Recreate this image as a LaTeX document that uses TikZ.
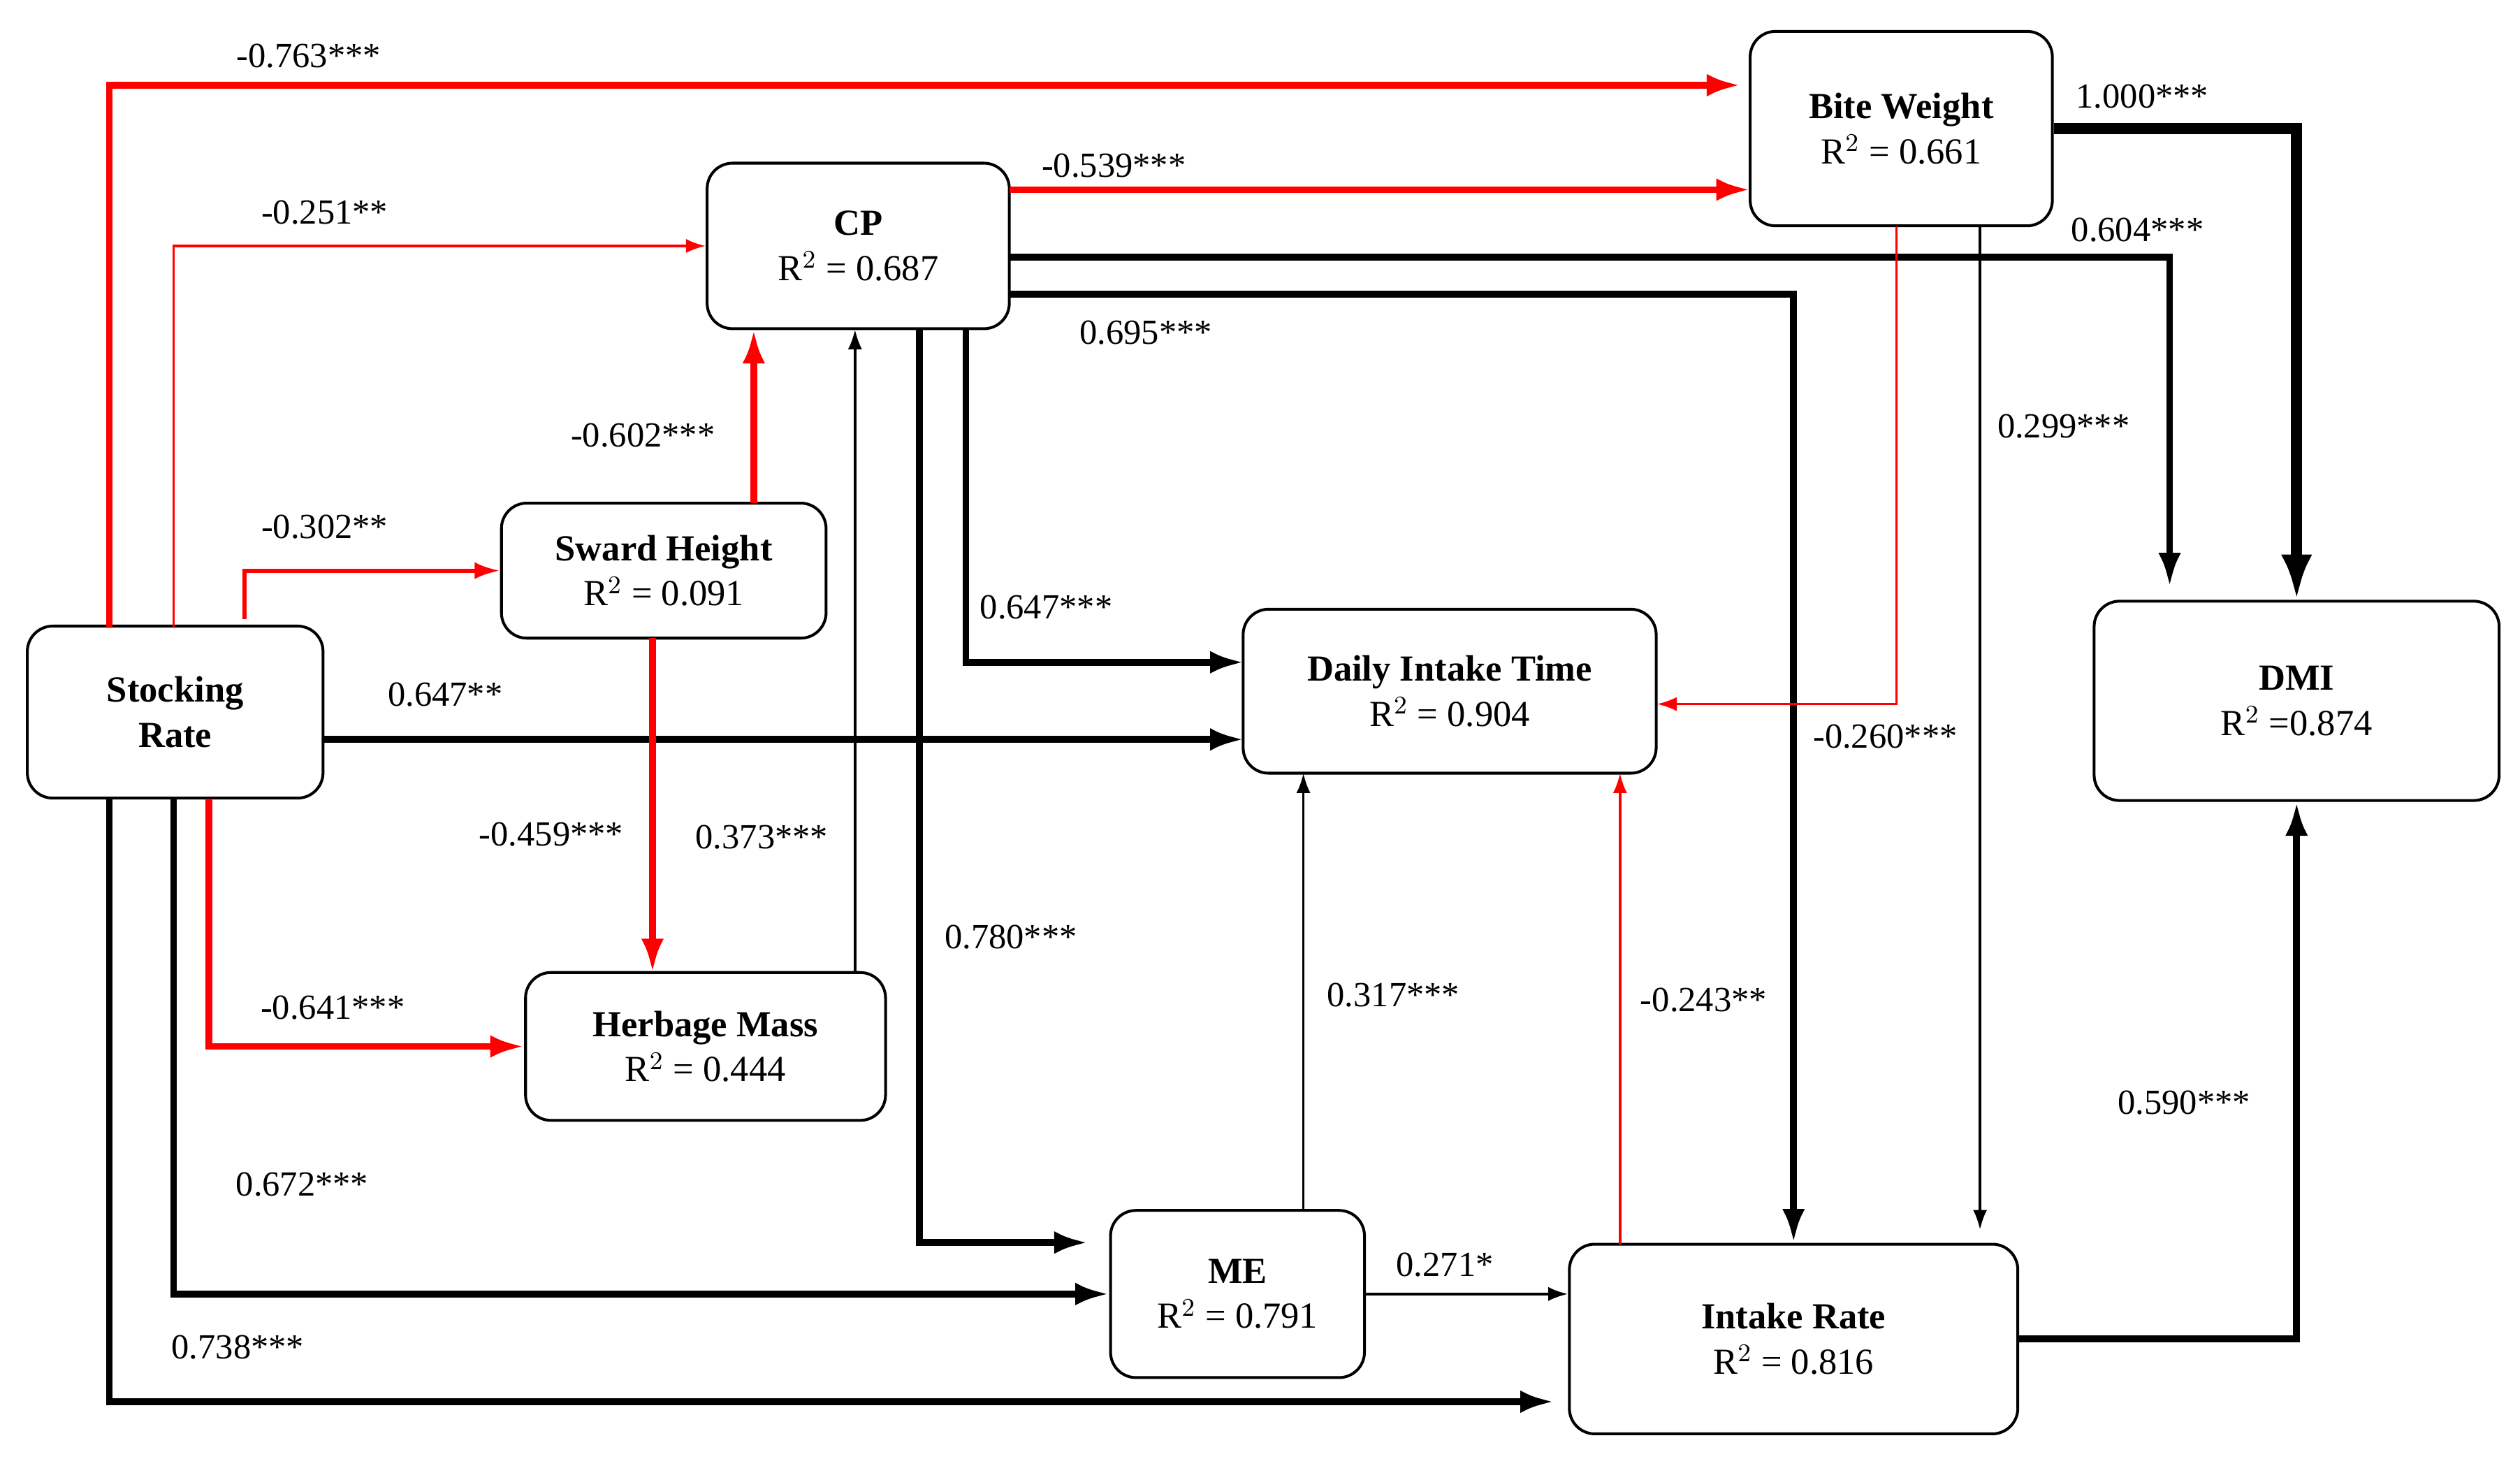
\documentclass[tikz,border=0pt]{standalone}
\usepackage{fontspec}
\setmainfont{Liberation Serif}
\usetikzlibrary{arrows.meta}
\begin{document}
\begin{tikzpicture}[x=0.02cm,y=-0.02cm,
 box/.style={draw,rounded corners=9pt,line width=1pt,align=center,font=\fontsize{13}{16}\selectfont,inner sep=0pt},
 lab/.style={font=\fontsize{12.5}{14}\selectfont},
 thin/.style={line width=0.9pt,-{Latex[length=7pt,width=5pt]}},
 med/.style={line width=1.5pt,-{Latex[length=9pt,width=6pt]}},
 thk/.style={line width=2.4pt,-{Latex[length=12pt,width=8pt]}},
 vthk/.style={line width=4pt,-{Latex[length=16pt,width=11pt]}},
 rd/.style={draw=red}]
\useasboundingbox (0,0) rectangle (1568,916);
\node[box,minimum width=184*0.02cm,minimum height=107*0.02cm] (sr) at (109,443) {\textbf{Stocking}\\\textbf{Rate}};
\node[box,minimum width=188*0.02cm,minimum height=103*0.02cm] (cp) at (534,153) {\textbf{CP}\\R$^2$ = 0.687};
\node[box,minimum width=202*0.02cm,minimum height=84*0.02cm] (sh) at (413,355) {\textbf{Sward Height}\\R$^2$ = 0.091};
\node[box,minimum width=224*0.02cm,minimum height=92*0.02cm] (hm) at (439,651) {\textbf{Herbage Mass}\\R$^2$ = 0.444};
\node[box,minimum width=188*0.02cm,minimum height=121*0.02cm] (bw) at (1183,80) {\textbf{Bite Weight}\\R$^2$ = 0.661};
\node[box,minimum width=257*0.02cm,minimum height=102*0.02cm] (dit) at (902,430) {\textbf{Daily Intake Time}\\R$^2$ = 0.904};
\node[box,minimum width=252*0.02cm,minimum height=124*0.02cm] (dmi) at (1429,436) {\textbf{DMI}\\R$^2$ =0.874};
\node[box,minimum width=158*0.02cm,minimum height=104*0.02cm] (me) at (770,805) {\textbf{ME}\\R$^2$ = 0.791};
\node[box,minimum width=279*0.02cm,minimum height=118*0.02cm] (ir) at (1116,833) {\textbf{Intake Rate}\\R$^2$ = 0.816};

\draw[thk,rd] (68,390) |- (1083,53);
\draw[thin,rd] (108,390) |- (cp.west);
\draw[med,rd] (152,385) |- (sh.west);
\draw[thk] (201,460) -- (774,460);
\draw[thk,rd] (130,497) |- (hm.west);
\draw[thk] (108,497) |- (me.west);
\draw[thk] (68,497) |- (967,872);
\draw[thk,rd] (469,313) -- (469,205);
\draw[thk,rd] (406,397) -- (406,605);
\draw[thin] (532,605) -- (532,205);
\draw[thk,rd] (628,118) -- (1089,118);
\draw[thk] (628,160) -| (1350,365);
\draw[thk] (628,183) -| (ir.north);
\draw[thk] (601,205) |- (774,412);
\draw[thk] (572,205) |- (677,773);
\draw[vthk] (bw.east) -| (dmi.north);
\draw[thin,rd] (1180,141) |- (1031,438);
\draw[thin] (1232,141) -- (1232,765);
\draw[thin] (811,753) -- (811,481);
\draw[thin] (me.east) -- (ir.west|-me.east);
\draw[thin,rd] (1008,774) -- (1008,481);
\draw[thk] (ir.east) -| (dmi.south);

\node[lab] at (192,35) {-0.763***};
\node[lab] at (202,132) {-0.251**};
\node[lab] at (202,328) {-0.302**};
\node[lab] at (277,432) {0.647**};
\node[lab] at (207,627) {-0.641***};
\node[lab] at (188,737) {0.672***};
\node[lab] at (148,838) {0.738***};
\node[lab] at (400,271) {-0.602***};
\node[lab] at (343,519) {-0.459***};
\node[lab] at (474,521) {0.373***};
\node[lab] at (693,103) {-0.539***};
\node[lab] at (1330,143) {0.604***};
\node[lab] at (713,207) {0.695***};
\node[lab] at (651,378) {0.647***};
\node[lab] at (629,583) {0.780***};
\node[lab] at (1333,60) {1.000***};
\node[lab] at (1173,458) {-0.260***};
\node[lab] at (1284,265) {0.299***};
\node[lab] at (867,619) {0.317***};
\node[lab] at (899,787) {0.271*};
\node[lab] at (1060,622) {-0.243**};
\node[lab] at (1359,686) {0.590***};
\end{tikzpicture}
\end{document}
